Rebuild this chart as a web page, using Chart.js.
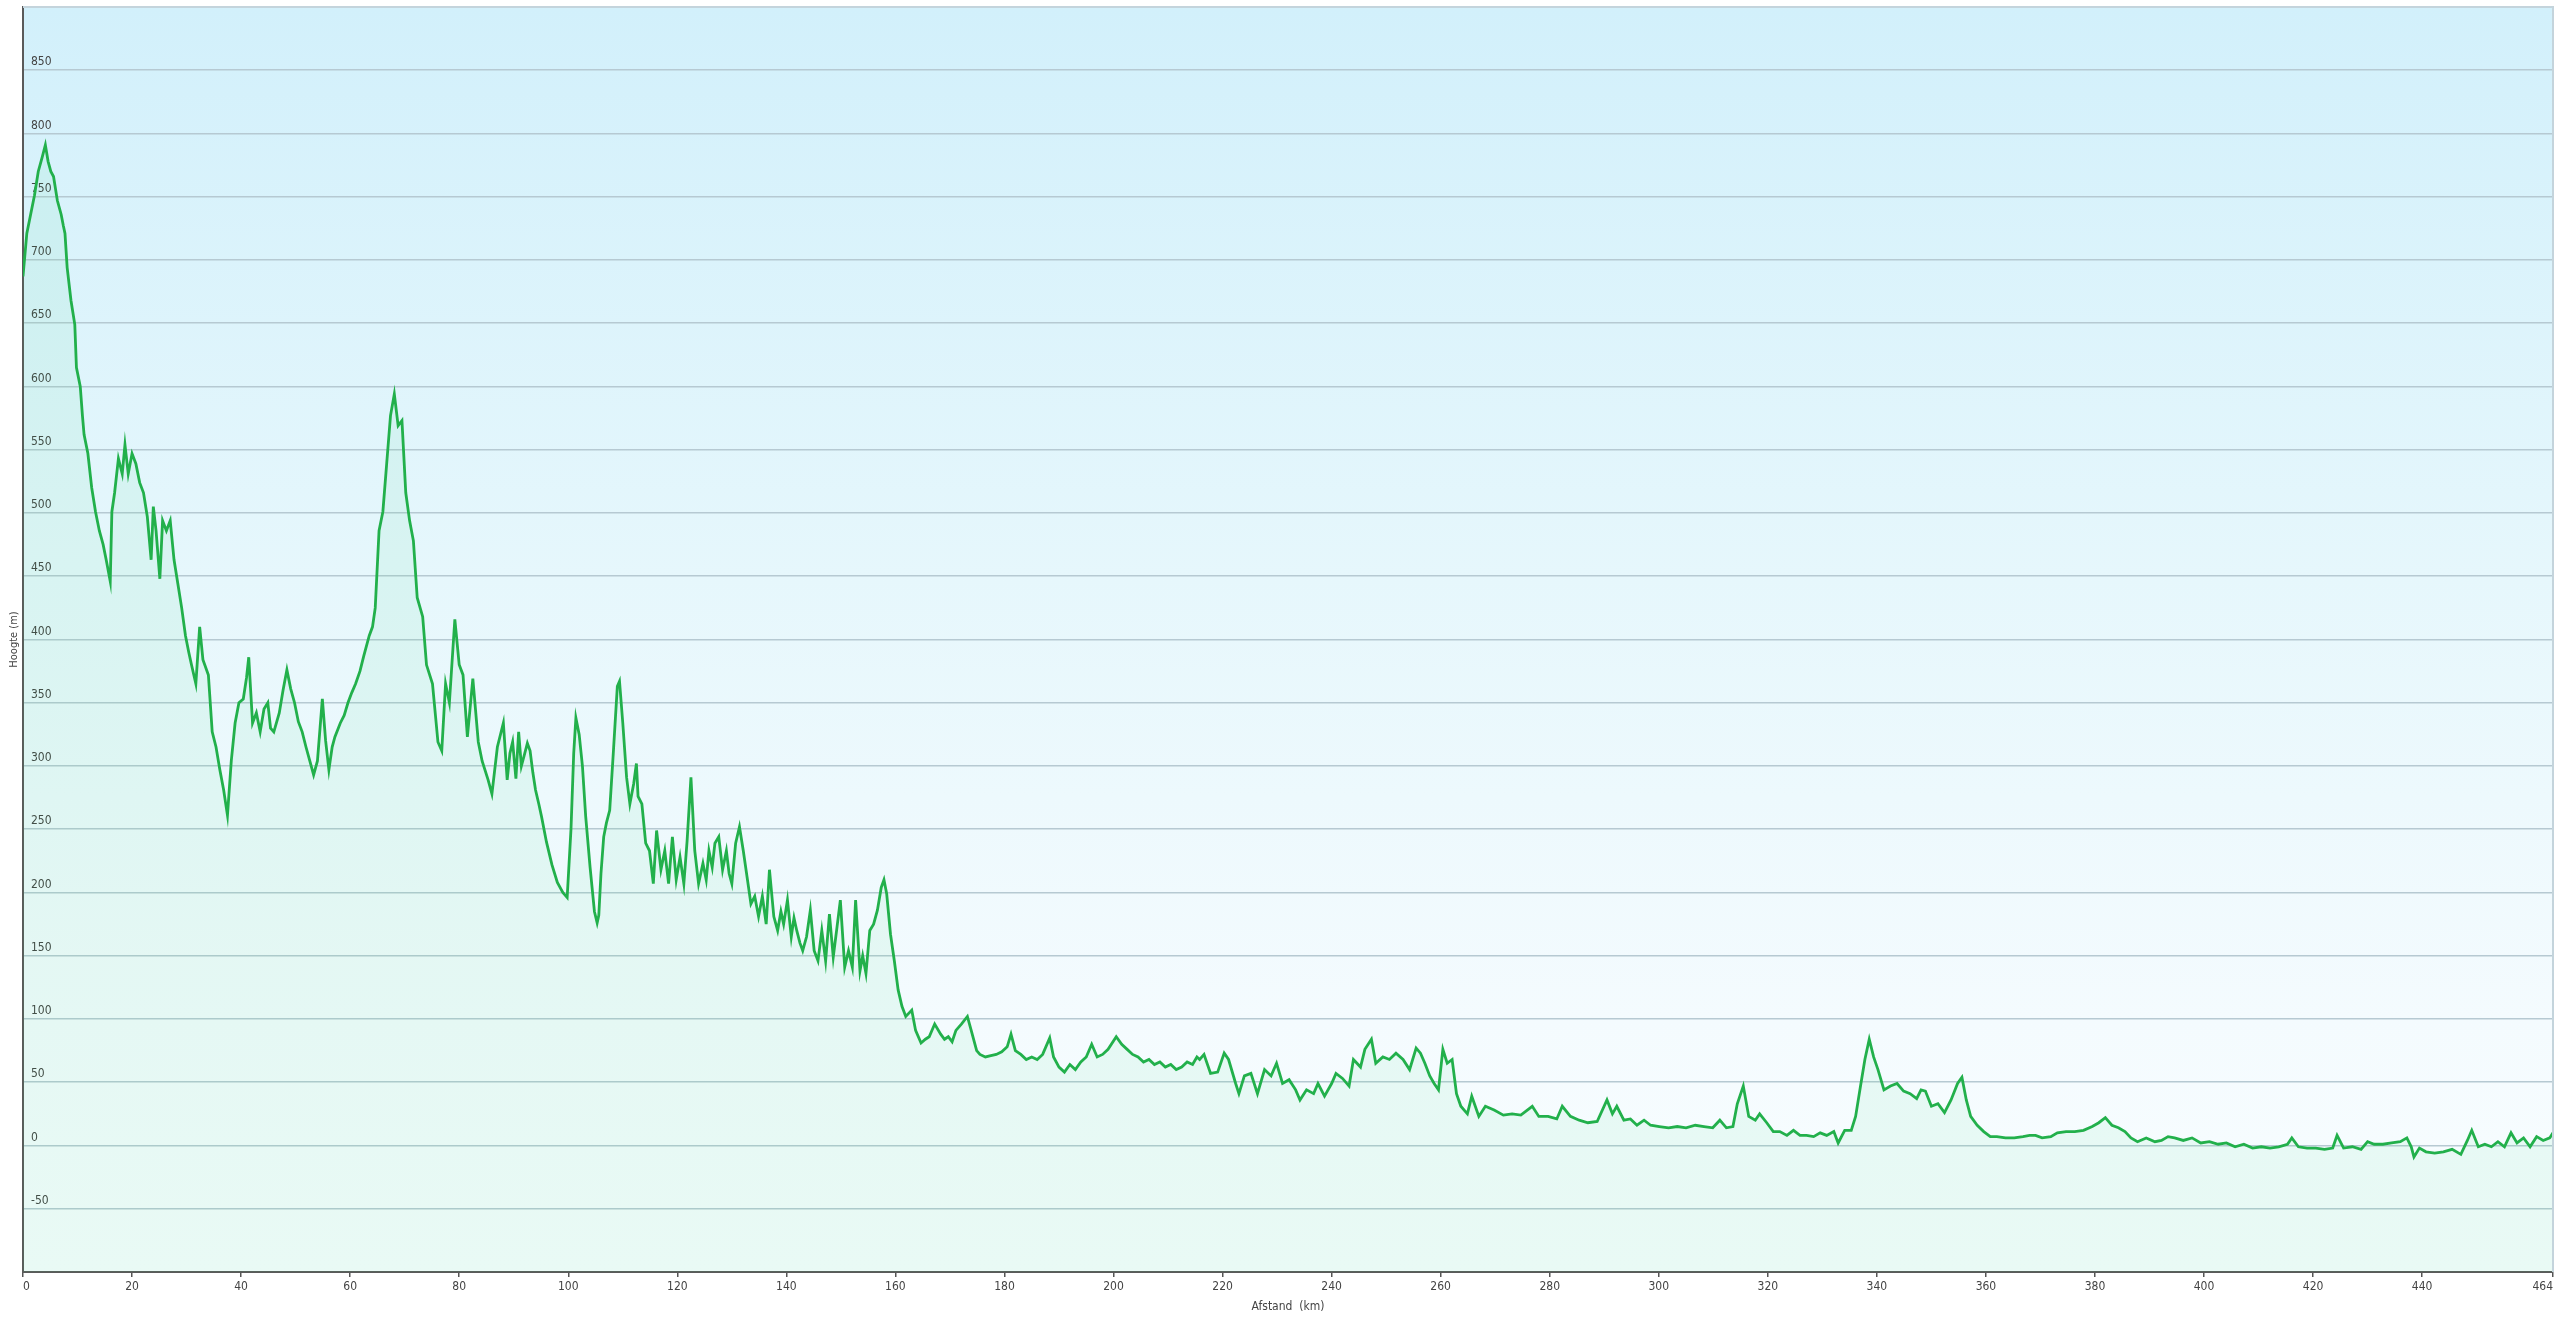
<!DOCTYPE html>
<html><head><meta charset="utf-8">
<script src="https://cdn.jsdelivr.net/npm/chart.js@4.4.1/dist/chart.umd.min.js"></script>
<style>html,body{margin:0;padding:0;background:#fff;overflow:hidden}#wrap{width:2560px;height:1317px}</style>
</head><body><div id="wrap"><canvas id="c" width="2560" height="1317"></canvas></div>
<script>
// Distance along route (km)
const distanceKm = [
0,0.7,1.4,2.1,2.8,3.5,4.1,4.6,5.1,5.6,6.3,7.0,7.4,7.7,8.1,8.8,9.5,9.8,10.5,10.9,11.2,11.9,12.6,13.3,14.0,14.7,15.3,16.0,16.3,16.8,17.5,18.2,18.7,19.3,20.0,20.7,21.4,22.1,22.8,23.5,23.9,24.4,25.1,25.6,26.3,27.0,27.7,28.4,29.1,29.8,30.4,30.9,31.7,32.4,33.0,34.0,34.7,35.4,36.1,36.8,37.5,38.2,38.9,39.6,40.4,41.0,41.4,42.1,42.8,43.5,44.2,44.9,45.4,46.0,47.0,47.7,48.4,49.1,49.8,50.5,51.2,51.9,52.6,53.3,54.0,54.9,55.5,56.1,56.7,57.2,58.2,58.9,59.6,60.3,61.0,61.8,62.5,63.5,64.1,64.6,65.3,66.0,66.7,67.4,68.1,68.8,69.5,70.2,70.9,71.6,72.3,73.3,74.0,75.1,76.1,76.8,77.5,78.2,79.2,80.0,80.7,81.5,82.5,83.5,84.2,85.3,86.0,87.0,88.1,88.8,89.3,89.8,90.4,90.9,91.4,91.9,92.5,93.0,93.5,94.0,94.6,95.1,96.0,97.0,98.0,99.0,99.8,100.5,101.0,101.4,102.0,102.6,103.2,104.0,104.8,105.3,105.6,106.0,106.5,107.0,107.6,108.3,109.0,109.4,110.0,110.7,111.3,112.0,112.5,112.8,113.5,114.2,114.9,115.6,116.2,117.0,117.7,118.4,119.1,119.8,120.5,121.2,121.8,122.5,123.2,123.9,124.7,125.3,125.8,126.4,126.9,127.6,128.3,129.0,129.5,130.0,130.7,131.4,132.1,132.8,133.5,134.2,134.9,135.6,136.3,136.9,137.7,138.4,139.0,139.5,140.2,140.9,141.4,141.9,142.5,143.0,143.7,144.4,145.1,145.8,146.5,147.2,147.9,148.6,149.3,149.9,150.7,151.4,152.1,152.7,153.5,154.0,154.6,155.3,156.0,156.7,157.4,157.9,158.4,159.1,159.8,160.5,161.2,161.9,163.0,163.7,164.7,165.5,166.2,167.2,168.3,169.0,169.7,170.4,171.1,172.1,173.2,173.9,174.9,
175.5,176.5,177.5,178.5,179.5,180.5,181.2,182,183,184,185,186,187,188.3,189,190,191,192,193,194,195,196,197,198,199,200.5,201.5,202.5,203.5,204.5,205.5,206.5,207.5,208.5,209.5,210.5,211.5,212.5,213.5,214.5,215.3,
215.8,216.6,217.8,219.1,220.3,221.1,222.4,223,224,225.2,226.4,227.7,228.9,229.9,231,232.2,233.4,234.2,235.4,236.7,237.5,238.7,240,240.8,242,243.2,244,245.3,246.1,247.3,248.1,249.4,250.6,251.8,253.1,254.3,255.5,256.3,257.1,258,258.8,259.6,260.4,261.2,262.1,262.9,263.7,264.9,265.7,267,268.2,269.8,271.5,273.1,274.7,276.8,278,279.7,281.3,282.3,283.8,285.4,287,288.7,290.5,291.5,292.3,293.6,294.8,296,297.3,298.5,300.1,301.8,303.4,305,306.7,308.3,309.9,311.2,312.4,313.6,314.4,315.5,316.5,317.7,318.5,319.8,321,322.2,323.5,324.7,325.9,327.1,328.4,329.6,330.8,332.1,332.9,334.1,335.3,336.1,337,337.8,338.6,339.4,340.2,
341.3,342.5,343.7,344.9,346.1,347.3,348.1,348.9,350,351.2,352.4,353.6,354.8,355.6,356.4,357.2,358.4,359.6,360.8,362,363.6,365.2,366.8,368,369.1,370.3,371.9,373.1,374.7,376.3,377.9,379.5,380.7,381.9,383.1,384.3,385.5,386.6,387.8,389.4,391,392.2,393.4,394.6,396.2,397.8,399.4,401,402.6,404.1,405.7,407.3,408.9,410.5,412.1,413.7,415.3,416.1,417.3,418.9,420.5,422.1,423.6,424.4,425.6,427.2,428.8,430,431.2,432.8,434.4,436,437.2,438,438.5,439.5,440.7,442.3,443.9,445.5,447.1,448.3,449.1,450.3,451.5,452.7,453.9,455.1,456.3,457.4,458.6,459.8,461,462.2,463.4,464
];
// Elevation (m)
const elevationM = [
687,721,736,751,770,781,791,778,770,766,747,736,727,721,694,668,649,615,600,577,562,547,520,501,486,475,462,446,501,516,543,531,554,531,547,539,524,516,497,463,505,486,448,494,486,494,463,444,425,403,390,380,365,410,384,372,327,315,297,281,261,304,334,350,353,370,386,334,342,327,345,350,330,327,342,360,376,361,350,335,327,315,304,293,304,353,320,297,315,323,334,340,350,358,365,375,387,403,410,425,486,501,539,577,594,569,573,516,494,478,433,418,380,365,319,312,365,350,416,380,372,323,369,319,304,289,278,315,334,289,310,319,290,327,300,308,318,312,295,281,270,260,240,222,208,200,196,250,310,338,325,300,260,220,185,176,182,215,244,255,265,313,363,367,334,291,270,286,302,276,270,239,233,207,249,218,233,207,244,210,228,207,241,291,233,207,223,210,233,220,239,244,218,233,215,207,239,252,233,212,191,197,181,197,175,218,181,170,185,175,194,165,180,170,160,154,165,186,154,146,170,146,183,149,173,194,141,154,141,194,138,150,136,170,175,186,204,210,199,167,146,123,110,102,107,91,81,84,86,96,88,84,86,82,91,96,102,91,75,
72,70,71,72,74,78,88,75,72,68,70,68,72,85,70,62,58,64,60,66,70,80,70,72,76,86,80,76,72,70,66,68,64,66,62,64,60,62,66,64,70,
68,72,57,58,73,68,49,41,55,57,41,60,55,65,49,52,44,36,44,41,49,39,49,57,53,47,68,62,76,84,65,70,68,73,68,60,77,73,65,55,49,44,76,65,68,41,31,25,39,23,31,28,24,25,24,31,23,23,21,31,23,20,18,19,36,25,31,20,21,16,20,16,15,14,15,14,16,15,14,20,14,15,33,47,23,20,25,18,11,11,8,12,8,8,7,10,8,11,2,12,12,23,47,68,84,70,60,
44,47,49,43,41,37,44,43,31,33,26,36,49,54,36,23,16,11,7,7,6,6,7,8,8,6,7,10,11,11,12,15,18,22,16,14,11,6,3,6,3,4,7,6,4,6,2,3,1,2,-1,1,-2,-1,-2,-1,1,6,-1,-2,-2,-3,-2,8,-2,-1,-3,3,1,1,2,3,6,-1,-9,-2,-5,-6,-5,-3,-7,4,12,-1,1,-1,3,-1,10,2,6,-1,7,4,6,10
];
const xMin = 0, xMax = 464, xStep = 20;
const yMin = -100, yMax = 900, yStep = 50;
const hiddenYLabels = [-100, 900];
const xTitle = 'Afstand  (km)';
const yTitle = 'Hoogte (m)';

const points = distanceKm.map((d, i) => ({x: d, y: elevationM[i]}));
const FONT = '"DejaVu Sans Condensed", "DejaVu Sans", sans-serif';

const bgPlugin = {
  id: 'bg',
  beforeDraw(chart) {
    const {ctx, chartArea: a} = chart;
    const g = ctx.createLinearGradient(0, a.top, 0, a.bottom);
    g.addColorStop(0, '#d2f0fb');
    g.addColorStop(0.45, '#e6f7fc');
    g.addColorStop(0.8, '#f4fbfe');
    g.addColorStop(1, '#f8fdff');
    ctx.save();
    ctx.fillStyle = g;
    ctx.fillRect(a.left, a.top, a.right - a.left, a.bottom - a.top);
    ctx.restore();
  },
  afterDraw(chart) {
    const {ctx, chartArea: a} = chart;
    ctx.save();
    ctx.strokeStyle = '#c4d4dc';
    ctx.lineWidth = 2;
    ctx.beginPath();
    ctx.moveTo(a.left, a.top);
    ctx.lineTo(a.right, a.top);
    ctx.lineTo(a.right, a.bottom);
    ctx.stroke();
    ctx.restore();
  }
};

new Chart(document.getElementById('c'), {
  type: 'line',
  data: {
    datasets: [{
      data: points,
      borderColor: '#22b04b',
      borderWidth: 2.8,
      backgroundColor: 'rgba(60,220,120,0.075)',
      fill: 'start',
      pointRadius: 0,
      tension: 0
    }]
  },
  plugins: [bgPlugin],
  options: {
    responsive: false,
    devicePixelRatio: 1,
    animation: false,
    layout: {padding: {top: 7, right: 7, left: 0, bottom: 0}},
    plugins: {legend: {display: false}, tooltip: {enabled: false}},
    scales: {
      x: {
        type: 'linear', min: xMin, max: xMax,
        afterFit(s) { s.height = 45; s.paddingLeft = 0; s.paddingRight = 0; },
        ticks: {stepSize: xStep, align: 'inner', color: '#444', font: {family: FONT, size: 12}, padding: 3, maxRotation: 0, autoSkip: false},
        grid: {drawOnChartArea: false, drawTicks: true, tickLength: 5, color: '#555', lineWidth: 1.5},
        border: {display: true, color: '#5a5a5a', width: 2},
        title: {display: true, text: xTitle, color: '#444', font: {family: FONT, size: 12}, padding: {top: 0, bottom: 3}}
      },
      y: {
        type: 'linear', min: yMin, max: yMax,
        afterFit(s) { s.width = 23; s.paddingTop = 0; s.paddingBottom = 0; },
        ticks: {
          stepSize: yStep, mirror: true, padding: 8, labelOffset: -8,
          color: '#444', font: {family: FONT, size: 12},
          callback: (v) => hiddenYLabels.includes(v) ? '' : String(v)
        },
        grid: {drawTicks: false, color: '#b6c9d2', lineWidth: 1.6},
        border: {display: true, color: '#5a5a5a', width: 2},
        title: {display: true, text: yTitle, color: '#444', font: {family: FONT, size: 11}, padding: {top: 8, bottom: 0}}
      }
    }
  }
});
</script></body></html>
